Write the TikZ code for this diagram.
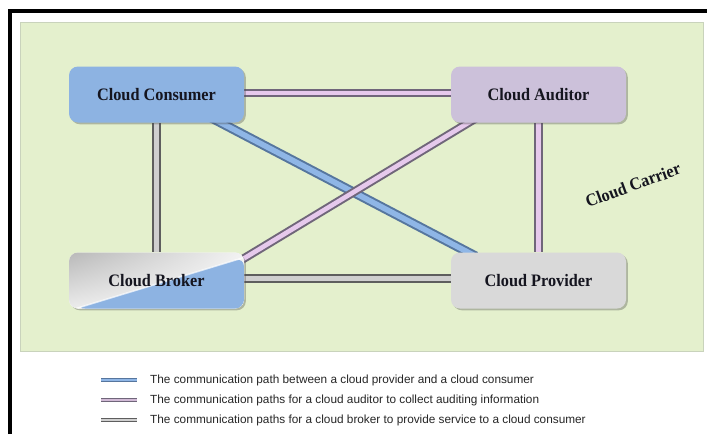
\documentclass[tikz,border=0pt]{standalone}
\usepackage{fontspec}
\setmainfont{Liberation Serif}
\newfontfamily\legendfont{Liberation Sans}
\newfontfamily\boxfont{Liberation Serif}[FakeStretch=0.93]
\usetikzlibrary{shadows,shadings}
\definecolor{greenbg}{HTML}{E4F0CD}
\definecolor{greenedge}{HTML}{C9D3BC}
\definecolor{consblue}{HTML}{8DB3E2}
\definecolor{audpurple}{HTML}{CCC1DA}
\definecolor{provgray}{HTML}{D9D9D9}
\definecolor{pipeblueD}{HTML}{56769E}
\definecolor{pipeblueL}{HTML}{8FB6E6}
\definecolor{pipepurD}{HTML}{70667A}
\definecolor{pipepurL}{HTML}{E6C9EC}
\definecolor{pipegryD}{HTML}{5E5E5E}
\definecolor{pipegryL}{HTML}{CFCFCF}
\definecolor{txt}{HTML}{15151F}
\begin{document}
\begin{tikzpicture}[x=1pt,y=-1pt,
  actor/.style={rectangle, rounded corners=9pt, minimum width=175pt, minimum height=56pt,
    inner sep=0pt, font=\boxfont\bfseries\fontsize{17.5}{20}\selectfont, text=txt},
  shadowed/.style={drop shadow={shadow xshift=1.8pt, shadow yshift=-1.8pt, opacity=0.35, fill=black!70}},
  bluepipe/.style={draw=pipeblueD, double=pipeblueL, line width=2pt, double distance=5.5pt},
  purpipe/.style={draw=pipepurD, double=pipepurL, line width=2pt, double distance=4.6pt},
  grypipe/.style={draw=pipegryD, double=pipegryL, line width=2pt, double distance=4.6pt},
  legpipe/.style={line width=1.2pt, double distance=2pt},
  legtext/.style={anchor=west, inner sep=0pt, font=\legendfont\fontsize{11.8}{14}\selectfont, text=black!85}
]
\useasboundingbox (0,0) rectangle (707,434);
\fill[white] (0,0) rectangle (707,434);
% frame
\draw[line width=4pt] (10,434) -- (10,11) -- (707,11);
% carrier background
\fill[greenbg, draw=greenedge, line width=0.8pt] (20,22) rectangle (703,351);
\node[font=\boxfont\bfseries\fontsize{17.5}{20}\selectfont, text=txt, rotate=20, inner sep=0pt] (carrier) at (633,185) {Cloud Carrier};

\path (156.5,94.5) coordinate (pc) (538.5,94.5) coordinate (pa) (156.5,280.5) coordinate (pb) (538.5,280.5) coordinate (pp);

% invisible anchor nodes
\node[actor] (cons0) at (pc) {};
\node[actor] (aud0) at (pa) {};
\node[actor] (brok0) at (pb) {};
\node[actor] (prov0) at (pp) {};

\draw[purpipe] ([yshift=1.5pt]cons0.east) -- ([yshift=1.5pt]aud0.west);
\draw[grypipe] (cons0.south) -- (brok0.north);
\draw[purpipe] (aud0.south) -- (prov0.north);
\draw[grypipe] ([yshift=2pt]brok0.east) -- ([yshift=2pt]prov0.west);
\draw[bluepipe] ([xshift=-33pt,yshift=5pt]cons0.south east) -- ([xshift=25pt,yshift=-4pt]prov0.north west);
\draw[purpipe] ([xshift=26pt,yshift=5pt]aud0.south west) -- ([xshift=-5pt,yshift=-9pt]brok0.north east);

% visible boxes
\node[actor, shadowed, fill=consblue] (cons) at (pc) {Cloud Consumer};
\node[actor, shadowed, fill=audpurple] (aud) at (pa) {Cloud Auditor};
\node[actor, shadowed, fill=provgray] (prov) at (pp) {Cloud Provider};
\node[actor, shadowed, fill=white,
  path picture={
    \shade[upper left=gray!55, upper right=gray!10, lower left=gray!15, lower right=white]
      (path picture bounding box.north west) rectangle (path picture bounding box.south east);
    \fill[consblue] ([xshift=7pt]path picture bounding box.south west) --
      ([yshift=-5pt]path picture bounding box.north east) --
      (path picture bounding box.south east) -- cycle;
    \draw[white, opacity=0.7, line width=1.5pt] ([xshift=7pt]path picture bounding box.south west) --
      ([yshift=-5pt]path picture bounding box.north east);
  }] (brok) at (pb) {Cloud Broker};

% legend
\coordinate (l1a) at (101,380); \coordinate (l1b) at (137,380);
\coordinate (l2a) at (101,400); \coordinate (l2b) at (137,400);
\coordinate (l3a) at (101,420); \coordinate (l3b) at (137,420);
\draw[legpipe, draw=pipeblueD, double=pipeblueL] (l1a) -- (l1b);
\draw[legpipe, draw=pipepurD, double=pipepurL!80!gray] (l2a) -- (l2b);
\draw[legpipe, draw=pipegryD, double=pipegryL] (l3a) -- (l3b);
\node[legtext] (t1) at (150,380) {The communication path between a cloud provider and a cloud consumer};
\node[legtext] (t2) at (150,400) {The communication paths for a cloud auditor to collect auditing information};
\node[legtext] (t3) at (150,420) {The communication paths for a cloud broker to provide service to a cloud consumer};
\end{tikzpicture}
\end{document}
